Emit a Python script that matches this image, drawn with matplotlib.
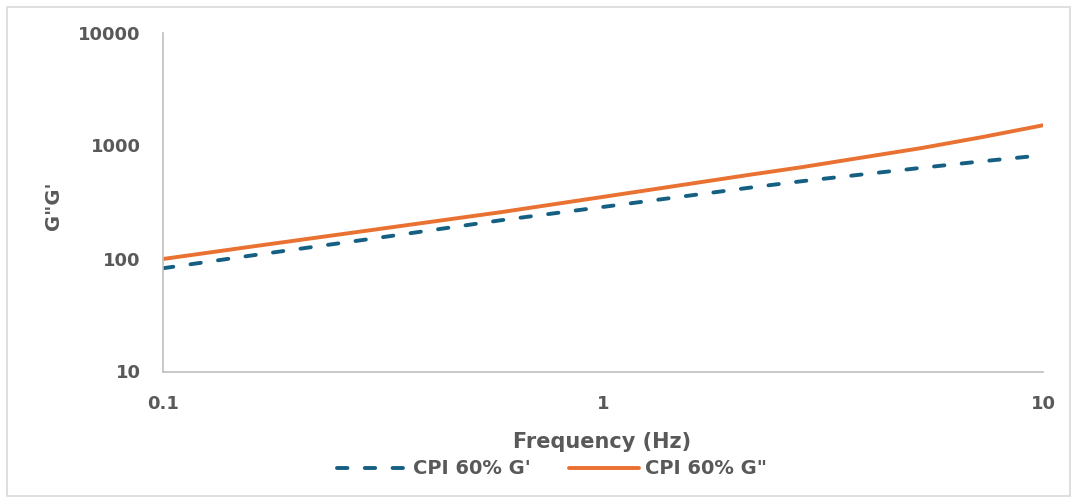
import matplotlib
matplotlib.use("Agg")
import matplotlib.pyplot as plt
from matplotlib.patches import Rectangle
from matplotlib.ticker import FixedLocator, NullLocator

plt.rcParams['font.family'] = ['DejaVu Sans']
plt.rcParams['lines.scale_dashes'] = False

# Data
frequency = [0.1, 0.158, 0.296, 0.586, 1.0, 2.17, 2.83, 5.3, 7.3, 10.0]
g_prime = [82, 106, 149, 218, 286, 425, 483, 635, 726, 821]
g_double_prime = [99, 127, 178, 257, 351, 553, 643, 950, 1190, 1510]
x_ticks = [0.1, 1, 10]
x_tick_labels = ["0.1", "1", "10"]
y_ticks = [10, 100, 1000, 10000]
y_tick_labels = ["10", "100", "1000", "10000"]

TXT = "#595959"
BLUE = "#156082"
ORANGE = "#E97132"

W, H = 1077, 503
fig = plt.figure(figsize=(W / 100, H / 100), dpi=100)
fig.patches.append(Rectangle((7 / W, 7 / H), 1 - 14 / W, 1 - 14 / H, transform=fig.transFigure,
                             fill=False, edgecolor="#D9D9D9", linewidth=1.2))

ax = fig.add_axes([163 / W, 1 - 371.5 / H, (1043 - 163) / W, (371.5 - 32.5) / H])
ax.plot(frequency, g_prime, color=BLUE, linewidth=2.8, dashes=(7.5, 12.5),
        dash_capstyle='round', label="CPI 60% G'")
ax.plot(frequency, g_double_prime, color=ORANGE, linewidth=2.8,
        solid_capstyle='round', solid_joinstyle='round', label='CPI 60% G"')
ax.set_xscale('log')
ax.set_yscale('log')
ax.set_xlim(0.1, 10)
ax.set_ylim(10, 10000)
ax.xaxis.set_major_locator(FixedLocator(x_ticks))
ax.yaxis.set_major_locator(FixedLocator(y_ticks))
ax.xaxis.set_minor_locator(NullLocator())
ax.yaxis.set_minor_locator(NullLocator())
ax.set_xticklabels(x_tick_labels)
ax.set_yticklabels(y_tick_labels)
ax.tick_params(axis='both', length=0, labelsize=13, labelcolor=TXT)
ax.tick_params(axis='x', pad=17)
ax.tick_params(axis='y', pad=16)
for lab in ax.get_xticklabels() + ax.get_yticklabels():
    lab.set_fontweight('bold')
for s in ['top', 'right']:
    ax.spines[s].set_visible(False)
for s in ['left', 'bottom']:
    ax.spines[s].set_color("#BFBFBF")
    ax.spines[s].set_linewidth(1.2)

fig.text(602 / W, 1 - 442 / H, "Frequency (Hz)", ha='center', va='center',
         fontsize=15, fontweight='bold', color=TXT)
fig.text(53 / W, 1 - 206 / H, 'G"G\'', ha='center', va='center', rotation=90,
         fontsize=14, fontweight='bold', color=TXT)

leg = fig.legend(loc='center', bbox_to_anchor=(552 / W, 1 - 469 / H), ncol=2,
                 frameon=False, prop={'size': 14, 'weight': 'bold'},
                 handlelength=3.6, handletextpad=0.3, columnspacing=2.0)
for t in leg.get_texts():
    t.set_color(TXT)

fig.savefig("out.png", dpi=100)
